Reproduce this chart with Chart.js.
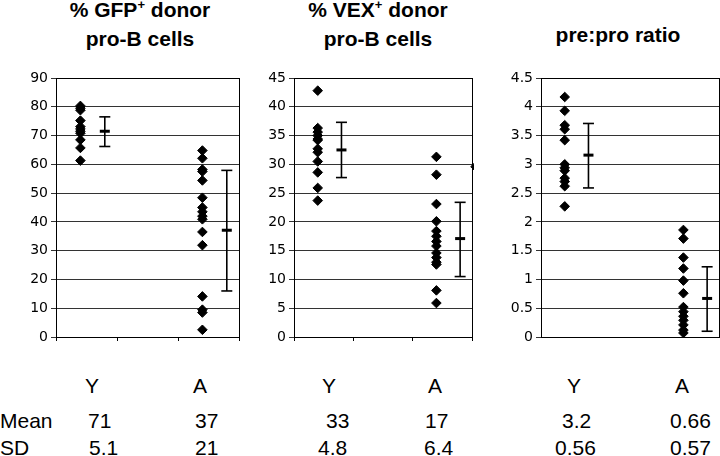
<!DOCTYPE html>
<html>
<head>
<meta charset="utf-8">
<script src="https://cdn.jsdelivr.net/npm/chart.js@4"></script>
<style>
  body { margin: 0; background: #fff; }
  #wrap { position: relative; width: 720px; height: 456px; overflow: hidden; font-family: "Liberation Sans", Arial, sans-serif; color: #000; }
  canvas { position: absolute; top: 60px; }
  .title { position: absolute; width: 240px; margin-left: -120px; text-align: center; font-weight: bold; font-size: 21px; line-height: 26px; white-space: nowrap; }
  .sup { font-size: 13px; position: relative; top: -8px; }
  .cell { position: absolute; font-size: 21px; line-height: 24px; white-space: nowrap; }
</style>
</head>
<body>
<div id="wrap">
  <div class="title" style="left:140px;top:-3px">% GFP<span class="sup">+</span> donor<br>pro-B cells</div>
  <div class="title" style="left:378px;top:-3px">% VEX<span class="sup">+</span> donor<br>pro-B cells</div>
  <div class="title" style="left:618px;top:22px">pre:pro ratio</div>
  <canvas id="c1" width="242" height="300" style="left:0px"></canvas>
  <canvas id="c2" width="230" height="300" style="left:244px"></canvas>
  <canvas id="c3" width="230" height="300" style="left:490px"></canvas>
</div>
<script>
// group labels and summary table
const groups = ["Y", "A"];
const meanText = ["71", "37", "33", "17", "3.2", "0.66"];
const sdText = ["5.1", "21", "4.8", "6.4", "0.56", "0.57"];

// % GFP+ donor pro-B cells
const gfpY = [80.3, 79.5, 78.8, 75.2, 73.1, 72.3, 71.5, 70.8, 68.5, 65.7, 61.3];
const gfpA = [64.8, 62.1, 58.2, 57.5, 54.4, 48.4, 45.0, 43.5, 42.0, 40.9, 36.5, 31.9, 14.1, 9.5, 8.5, 2.5];
const gfpMean = [71.5, 37.1];
const gfpLo = [66.2, 16.0];
const gfpHi = [76.5, 57.9];

// % VEX+ donor pro-B cells
const vexY = [42.8, 36.3, 35.6, 35.0, 34.4, 34.2, 32.7, 32.1, 30.5, 28.6, 25.9, 23.7];
const vexA = [31.3, 28.2, 23.1, 20.1, 18.4, 17.5, 16.6, 15.8, 14.6, 13.8, 13.0, 12.6, 8.1, 5.9];
const vexMean = [32.5, 17.1];
const vexLo = [27.7, 10.5];
const vexHi = [37.3, 23.4];
const vexEdge = [29.6]; // marker mostly cut off past the right edge

// pre:pro ratio
const ratioY = [4.17, 3.93, 3.68, 3.61, 3.42, 3.00, 2.94, 2.89, 2.76, 2.70, 2.62, 2.27];
const ratioA = [1.86, 1.71, 1.38, 1.19, 0.98, 0.76, 0.52, 0.44, 0.36, 0.29, 0.21, 0.12, 0.07];
const ratioMean = [3.16, 0.67];
const ratioLo = [2.59, 0.10];
const ratioHi = [3.71, 1.22];

// x slots on a 0..3 axis
const ptX = [0.4, 2.4];
const barX = [0.8, 2.8];
const edgeX = 3.06;

const frame = {
  id: "frame",
  afterDraw(chart) {
    const a = chart.chartArea, ctx = chart.ctx;
    ctx.save();
    ctx.strokeStyle = "#000";
    ctx.lineWidth = 1;
    ctx.strokeRect(Math.round(a.left) + 0.5, Math.round(a.top) + 0.5, Math.round(a.right - a.left), Math.round(a.bottom - a.top));
    ctx.restore();
  }
};

function dots(vals, x) {
  return {
    data: vals.map(v => ({ x, y: v })),
    pointStyle: "rectRot", pointRadius: 4.8,
    backgroundColor: "#000", borderColor: "#000", borderWidth: 1
  };
}

function errBar(i, lo, hi) {
  return {
    data: [{ x: barX[i], y: lo[i] }, { x: barX[i], y: hi[i] }],
    showLine: true, borderColor: "#000", borderWidth: 1.6,
    pointStyle: "line", pointRadius: 5.5, pointBorderWidth: 1.6, pointBorderColor: "#000"
  };
}

function meanMark(i, mean) {
  return {
    data: [{ x: barX[i], y: mean[i] }],
    pointStyle: "line", pointRadius: 5, pointBorderWidth: 3, pointBorderColor: "#000"
  };
}

function makePanel(id, opt) {
  const datasets = [
    dots(opt.y, ptX[0]), dots(opt.a, ptX[1]),
    errBar(0, opt.lo, opt.hi), errBar(1, opt.lo, opt.hi),
    meanMark(0, opt.mean), meanMark(1, opt.mean)
  ];
  if (opt.edge) {
    const d = dots(opt.edge, edgeX);
    d.clip = false;
    datasets.push(d);
  }
  new Chart(document.getElementById(id), {
    type: "scatter",
    data: { datasets },
    plugins: [frame],
    options: {
      responsive: false,
      animation: false,
      layout: { autoPadding: false, padding: { top: 18, right: opt.padRight, bottom: 0, left: 0 } },
      plugins: { legend: { display: false }, tooltip: { enabled: false } },
      scales: {
        x: {
          type: "linear", min: 0, max: 3,
          ticks: { stepSize: 1, callback: () => "" },
          grid: { drawOnChartArea: false, drawTicks: opt.xTicks, tickLength: 4, color: "#000" },
          border: { color: "#000" },
          afterFit: s => { s.height = 23; s.paddingLeft = 0; s.paddingRight = 0; }
        },
        y: {
          min: 0, max: opt.max,
          ticks: {
            stepSize: opt.step, color: "#000", padding: 3,
            font: { family: "DejaVu Sans", size: 14 },
            callback: v => String(Math.round(v * 100) / 100)
          },
          grid: { color: "#333", tickLength: 5 },
          border: { color: "#000" },
          afterFit: s => { s.width = opt.axisW; }
        }
      }
    }
  });
}

makePanel("c1", { y: gfpY, a: gfpA, mean: gfpMean, lo: gfpLo, hi: gfpHi, max: 90, step: 10, axisW: 56, padRight: 3, xTicks: true });
makePanel("c2", { y: vexY, a: vexA, mean: vexMean, lo: vexLo, hi: vexHi, edge: vexEdge, max: 45, step: 5, axisW: 50, padRight: 2, xTicks: true });
makePanel("c3", { y: ratioY, a: ratioA, mean: ratioMean, lo: ratioLo, hi: ratioHi, max: 4.5, step: 0.5, axisW: 51, padRight: 1, xTicks: false });

// summary rows under the charts
const wrap = document.getElementById("wrap");
function cell(txt, left, top) {
  const d = document.createElement("div");
  d.className = "cell";
  d.textContent = txt;
  d.style.left = left + "px";
  d.style.top = top + "px";
  wrap.appendChild(d);
}
const groupLeft = [85, 193, 322, 428, 567, 675];
const meanLeft = [88, 195, 326, 425, 562, 670];
const sdLeft = [89, 195, 318, 424, 555, 670];
groupLeft.forEach((x, i) => cell(groups[i % 2], x, 374));
cell("Mean", 0, 409);
cell("SD", 0, 436);
meanText.forEach((t, i) => cell(t, meanLeft[i], 409));
sdText.forEach((t, i) => cell(t, sdLeft[i], 436));
</script>
</body>
</html>
